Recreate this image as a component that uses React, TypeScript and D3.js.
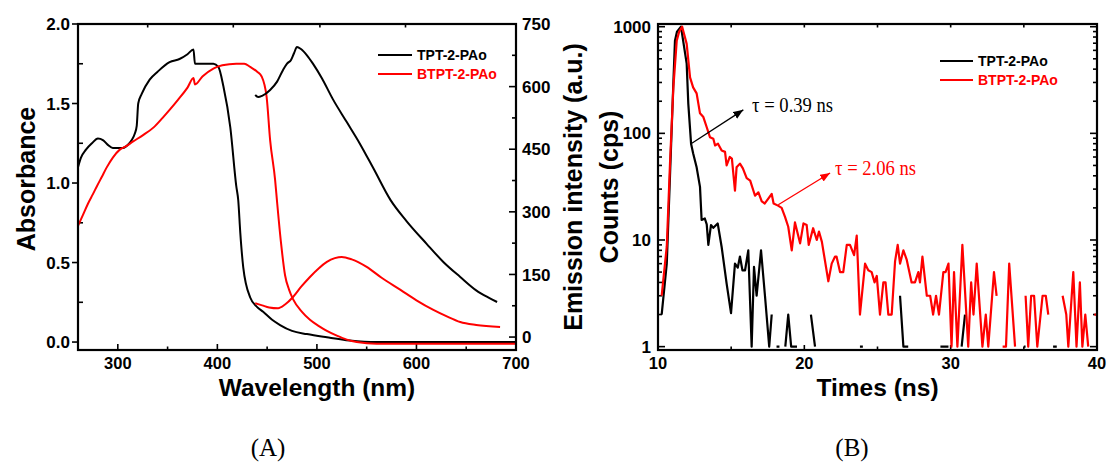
import React from "react";
import * as d3 from "d3";

// ---------- (A) absorbance + emission ----------
const tptAbsNm = [260, 263, 268, 274, 280, 285, 290, 295, 300, 305, 310, 314, 317, 319, 320.5, 324, 332, 340, 352, 362, 370, 376, 377.5, 390, 396, 401, 406, 413, 419, 421, 423, 426, 433, 440, 446, 455, 463, 475, 490, 510, 533, 560, 620, 700];
const tptAbs = [1.10, 1.16, 1.21, 1.25, 1.28, 1.27, 1.24, 1.22, 1.22, 1.22, 1.24, 1.27, 1.31, 1.36, 1.50, 1.56, 1.65, 1.70, 1.76, 1.78, 1.81, 1.84, 1.75, 1.75, 1.75, 1.73, 1.61, 1.35, 0.98, 0.89, 0.69, 0.47, 0.28, 0.22, 0.19, 0.14, 0.107, 0.07, 0.05, 0.03, 0.01, 0.0, 0.0, 0.0];

const btptAbsNm = [260, 265, 270, 275, 279, 284, 289, 295, 302, 308, 315, 325, 336, 345, 352, 360, 370, 376, 377.5, 385, 396, 405, 419, 427, 433, 440, 444.5, 449.5, 453, 458, 460, 464, 468, 472, 476, 485, 493, 502, 510, 520, 530, 540, 560, 700];
const btptAbs = [0.73, 0.80, 0.87, 0.93, 0.98, 1.04, 1.10, 1.16, 1.21, 1.23, 1.26, 1.30, 1.35, 1.41, 1.46, 1.52, 1.60, 1.66, 1.62, 1.67, 1.72, 1.74, 1.75, 1.75, 1.73, 1.70, 1.67, 1.54, 1.27, 1.02, 0.88, 0.62, 0.42, 0.33, 0.27, 0.19, 0.14, 0.10, 0.07, 0.04, 0.015, 0.0, -0.01, -0.01];

const tptEmNm = [438, 441, 445, 453, 460, 466, 470, 474, 477, 480, 484, 490, 496, 505, 516, 530, 543, 557, 574, 590, 610, 627, 644, 660, 672, 681];
const tptEm = [580, 575, 578, 592, 612, 640, 655, 664, 680, 695, 690, 675, 655, 620, 570, 515, 464, 403, 328, 278, 224, 180, 144, 112, 95, 84];

const btptEmNm = [438, 445, 452, 461, 468, 476, 484, 493, 502, 510, 518, 525, 535, 550, 565, 584, 600, 617, 630, 644, 660, 684];
const btptEm = [81, 76, 71, 69, 78, 96, 120, 144, 165, 180, 189, 192, 186, 168, 142, 113, 88, 65, 50, 36, 29, 24];

const absTicks = [0, 0.5, 1.0, 1.5, 2.0];
const absMinor = [0.25, 0.75, 1.25, 1.75];
const emTicks = [0, 150, 300, 450, 600, 750];
const emMinor = [75, 225, 375, 525, 675];
const wlTicks = [300, 400, 500, 600, 700];
const wlMinor = [350, 450, 550, 650];
const wlTop = [330, 416, 503, 589];

// ---------- (B) decay ----------
const tptT = [10.25, 10.6, 10.82, 11.05, 11.16, 11.3, 11.57, 11.96, 12.07, 12.26, 12.4, 12.64, 12.87, 12.98, 13.2, 13.33, 13.44, 13.62, 13.78, 14.08, 14.35, 14.69, 14.99, 15.26, 15.45, 15.6, 15.77, 15.95, 16.17, 16.4, 16.56, 16.74, 17.04, 17.31, 17.6, 17.77, 17.95, 18.1, 18.3, 18.5, 18.7, 18.9, 19.1, 19.3, 19.5, 19.7, 20.25, 20.45, 20.73, 20.9, 23.8, 24.0, 24.2, 26.3, 26.54, 26.77, 27.1, 27.3, 29.3, 29.85, 30.1, 30.75, 30.98, 31.2, 35.0, 35.12, 35.3, 37.0, 37.25, 37.45];
const tptCounts = [2, 6, 40, 300, 740, 900, 1000, 450, 190, 80, 65, 48, 31.5, 15.4, 15.9, 14, 9, 13.8, 13, 14.3, 8.6, 3.9, 2.06, 6, 5.5, 7, 5.2, 5.2, 8, 1, 5.6, 3, 8, 3, 1, 2, 0, 1, 1, 0, 1, 2, 1, 1, 1, 0, 0, 2, 1, 0, 1, 1, 0, 0, 3, 1, 1, 0, 1, 1, 0, 1, 2, 0, 1, 1, 0, 1, 1, 0];

const btptT = [10.25, 10.6, 10.82, 11.05, 11.28, 11.45, 11.65, 11.96, 12.19, 12.4, 12.64, 12.87, 13.1, 13.33, 13.55, 13.78, 13.9, 14.1, 14.35, 14.58, 14.69, 14.9, 15.05, 15.26, 15.37, 15.6, 15.8, 16.06, 16.3, 16.63, 16.86, 17.09, 17.3, 17.5, 17.77, 17.9, 18.2, 18.45, 18.68, 18.9, 19.14, 19.36, 19.71, 19.94, 20.16, 20.3, 20.6, 20.85, 21.0, 21.2, 21.64, 21.87, 22.1, 22.2, 22.44, 22.66, 22.9, 23.12, 23.4, 23.58, 23.8, 24.15, 24.37, 24.6, 24.8, 24.95, 25.17, 25.4, 25.55, 25.74, 25.97, 26.2, 26.38, 26.54, 26.77, 27.0, 27.33, 27.56, 27.79, 27.9, 28.07, 28.37, 28.6, 28.8, 29.0, 29.2, 29.5, 29.65, 29.85, 30.06, 30.23, 30.46, 30.8, 31.2, 31.4, 31.56, 31.78, 32.17, 32.4, 32.57, 32.96, 33.14, 33.35, 33.55, 33.78, 34.0, 34.4, 34.7, 35.12, 35.3, 35.5, 35.7, 35.92, 36.28, 36.5, 36.67, 37.0, 37.65, 37.9, 38.04, 38.38, 38.6, 38.83, 39.0, 39.2, 39.4, 39.6, 39.82, 40.0];
const btptCounts = [3, 8.7, 52, 270, 740, 900, 1000, 690, 335, 270, 237, 154, 142, 114, 92, 89, 77, 80, 69, 67, 50, 60, 58, 29, 48, 52, 47, 38, 36, 26, 28, 23, 22, 24, 27, 22, 21, 20, 16.5, 13.3, 8, 14.6, 9.3, 14.3, 13.8, 9, 12.9, 10, 12, 9.6, 4.1, 6, 7, 7, 5, 5, 9, 9, 7.2, 11, 2, 6, 5.2, 5, 4, 4.6, 2, 4, 4, 2, 2, 6.3, 9, 6, 8, 6.5, 4, 4, 5, 4, 7, 3, 3, 2, 3, 2, 5, 5, 6, 1, 5, 1, 9, 1, 4, 2, 6, 1, 2, 1, 5, 3, 0, 1, 1, 6, 1, 0, 3, 1, 3, 3, 1, 3, 3, 2, 0, 3, 2, 1, 5, 1, 4, 1, 2, 1, 0, 2, 2];

const timeTicks = [10, 20, 30, 40];
const timeMinor = [15, 25, 35];
const timeTop = [15, 20, 25, 30, 35];
const countTicks = [1, 10, 100, 1000];

// lifetime annotations, in data units (t ns, counts)
const tauTpt = { label: "τ = 0.39 ns", from: [12.26, 80], to: [15.83, 166], text: [16.43, 160] };
const tauBtpt = { label: "τ = 2.06 ns", from: [18.22, 21.4], to: [21.76, 42.5], text: [22.1, 41] };

const SANS = "'Liberation Sans', Arial, Helvetica, sans-serif";
const SERIF = "'Liberation Serif', 'Times New Roman', serif";
const RED = "#ff0000";

const ax = d3.scaleLinear().domain([260, 700]).range([78, 516]);
const ayL = d3.scaleLinear().domain([-0.05, 2.0]).range([350, 24]);
const ayR = d3.scaleLinear().domain([-31, 750]).range([350, 24]);

const bx = d3.scaleLinear().domain([10, 40]).range([658, 1097]);
const by = d3.scaleLog().domain([0.93, 1060]).range([350, 24]);

function smooth(xs: number[], ys: number[], y: (v: number) => number) {
  return d3
    .line<number>()
    .x((_, i) => ax(xs[i]))
    .y((d) => y(d))
    .curve(d3.curveMonotoneX)(ys) as string;
}

function decay(ts: number[], cs: number[]) {
  return d3
    .line<number>()
    .defined((d) => d > 0)
    .x((_, i) => bx(ts[i]))
    .y((d) => by(d))(cs) as string;
}

const tickStyle = { stroke: "#000", strokeWidth: 1.6 };

export default function App() {
  const [aL, aR, aT, aB] = [78, 516, 24, 350];
  const [bL, bR, bT, bB] = [658, 1097, 24, 350];
  const fmtAbs = d3.format(".1f");
  const logMinor = by.ticks().filter((v) => !countTicks.includes(v));

  const arrow = (a: typeof tauTpt, color: string, id: string) => (
    <g>
      <line
        x1={bx(a.from[0])}
        y1={by(a.from[1])}
        x2={bx(a.to[0])}
        y2={by(a.to[1])}
        stroke={color}
        strokeWidth={1.3}
        markerEnd={`url(#${id})`}
      />
      <text
        x={bx(a.text[0])}
        y={by(a.text[1])}
        fill={color}
        fontFamily={SERIF}
        fontSize={20}
        textLength={81}
        lengthAdjust="spacingAndGlyphs"
      >
        {a.label}
      </text>
    </g>
  );

  return (
    <svg
      width={1111}
      height={464}
      style={{ position: "absolute", left: 0, top: 0, background: "#fff" }}
    >
      <defs>
        <marker id="headK" markerUnits="userSpaceOnUse" markerWidth={12} markerHeight={10} refX={10} refY={4} orient="auto">
          <path d="M0,0 L10,4 L0,8 Z" fill="#000" />
        </marker>
        <marker id="headR" markerUnits="userSpaceOnUse" markerWidth={12} markerHeight={10} refX={10} refY={4} orient="auto">
          <path d="M0,0 L10,4 L0,8 Z" fill={RED} />
        </marker>
      </defs>

      {/* ---------------- panel A ---------------- */}
      <g fontFamily={SANS} fontWeight="bold">
        {absTicks.map((v) => (
          <g key={"al" + v}>
            <line x1={aL - 6} x2={aL} y1={ayL(v)} y2={ayL(v)} {...tickStyle} />
            <text x={aL - 8} y={ayL(v)} dy="0.36em" textAnchor="end" fontSize={17}>
              {fmtAbs(v)}
            </text>
          </g>
        ))}
        {absMinor.map((v) => (
          <line key={"alm" + v} x1={aL} x2={aL + 5} y1={ayL(v)} y2={ayL(v)} {...tickStyle} />
        ))}
        {emTicks.map((v) => (
          <g key={"ar" + v}>
            <line x1={aR - 7} x2={aR} y1={ayR(v)} y2={ayR(v)} {...tickStyle} />
            <text x={aR + 6} y={ayR(v)} dy="0.36em" fontSize={17}>
              {v}
            </text>
          </g>
        ))}
        {emMinor.map((v) => (
          <line key={"arm" + v} x1={aR - 4} x2={aR} y1={ayR(v)} y2={ayR(v)} {...tickStyle} />
        ))}
        {wlTicks.map((v) => (
          <g key={"ab" + v}>
            <line x1={ax(v)} x2={ax(v)} y1={aB - 6} y2={aB} {...tickStyle} />
            <text x={ax(v)} y={aB + 19} textAnchor="middle" fontSize={16.5}>
              {v}
            </text>
          </g>
        ))}
        {wlMinor.map((v) => (
          <line key={"abm" + v} x1={ax(v)} x2={ax(v)} y1={aB - 3.5} y2={aB} {...tickStyle} />
        ))}
        {wlTop.map((v) => (
          <line key={"at" + v} x1={ax(v)} x2={ax(v)} y1={aT} y2={aT + 3.5} {...tickStyle} />
        ))}

        <path d={smooth(tptAbsNm, tptAbs, ayL)} fill="none" stroke="#000" strokeWidth={2} />
        <path d={smooth(btptAbsNm, btptAbs, ayL)} fill="none" stroke={RED} strokeWidth={2} />
        <path d={smooth(tptEmNm, tptEm, ayR)} fill="none" stroke="#000" strokeWidth={2} />
        <path d={smooth(btptEmNm, btptEm, ayR)} fill="none" stroke={RED} strokeWidth={2} />

        <rect x={aL} y={aT} width={aR - aL} height={aB - aT} fill="none" stroke="#000" strokeWidth={2.2} />

        <line x1={378} x2={412} y1={55} y2={55} stroke="#000" strokeWidth={2} />
        <text x={417} y={60} fontSize={14}>TPT-2-PAo</text>
        <line x1={378} x2={412} y1={74} y2={74} stroke={RED} strokeWidth={2} />
        <text x={417} y={79} fontSize={14} fill={RED}>BTPT-2-PAo</text>

        <text x={317} y={396} textAnchor="middle" fontSize={24.5}>Wavelength (nm)</text>
        <text transform="translate(35,179) rotate(-90)" textAnchor="middle" fontSize={25}>Absorbance</text>
        <text transform="translate(582,187) rotate(-90)" textAnchor="middle" fontSize={25}>Emission intensity (a.u.)</text>
      </g>

      {/* ---------------- panel B ---------------- */}
      <g fontFamily={SANS} fontWeight="bold">
        {countTicks.map((v) => (
          <g key={"bl" + v}>
            <line x1={bL} x2={bL + 7} y1={by(v)} y2={by(v)} {...tickStyle} />
            <line x1={bR - 7} x2={bR} y1={by(v)} y2={by(v)} {...tickStyle} />
            <text x={bL - 7} y={by(v)} dy="0.36em" textAnchor="end" fontSize={17}>
              {v}
            </text>
          </g>
        ))}
        {logMinor.map((v) => (
          <g key={"blm" + v}>
            <line x1={bL} x2={bL + 4} y1={by(v)} y2={by(v)} {...tickStyle} />
            <line x1={bR - 4} x2={bR} y1={by(v)} y2={by(v)} {...tickStyle} />
          </g>
        ))}
        {timeTicks.map((v) => (
          <g key={"bb" + v}>
            <line x1={bx(v)} x2={bx(v)} y1={bB - 5} y2={bB} {...tickStyle} />
            <text x={bx(v)} y={bB + 19} textAnchor="middle" fontSize={16.5}>
              {v}
            </text>
          </g>
        ))}
        {timeMinor.map((v) => (
          <line key={"bbm" + v} x1={bx(v)} x2={bx(v)} y1={bB - 3.5} y2={bB} {...tickStyle} />
        ))}
        {timeTop.map((v) => (
          <line key={"bt" + v} x1={bx(v)} x2={bx(v)} y1={bT} y2={bT + 3.5} {...tickStyle} />
        ))}

        <path d={decay(tptT, tptCounts)} fill="none" stroke="#000" strokeWidth={2.2} strokeLinejoin="round" />
        <path d={decay(btptT, btptCounts)} fill="none" stroke={RED} strokeWidth={2.2} strokeLinejoin="round" />

        <rect x={bL} y={bT} width={bR - bL} height={bB - bT} fill="none" stroke="#000" strokeWidth={2.2} />

        <line x1={940} x2={973} y1={61} y2={61} stroke="#000" strokeWidth={2} />
        <text x={978} y={66} fontSize={14}>TPT-2-PAo</text>
        <line x1={940} x2={973} y1={80} y2={80} stroke={RED} strokeWidth={2} />
        <text x={978} y={85} fontSize={14} fill={RED}>BTPT-2-PAo</text>

        <text x={877.5} y={396} textAnchor="middle" fontSize={24.5}>Times (ns)</text>
        <text transform="translate(618,187) rotate(-90)" textAnchor="middle" fontSize={25}>Counts (cps)</text>
      </g>
      <g fontWeight="normal">
        {arrow(tauTpt, "#000", "headK")}
        {arrow(tauBtpt, RED, "headR")}
      </g>

      <text x={268} y={456} textAnchor="middle" fontFamily={SERIF} fontSize={25}>(A)</text>
      <text x={852} y={456} textAnchor="middle" fontFamily={SERIF} fontSize={25}>(B)</text>
    </svg>
  );
}
